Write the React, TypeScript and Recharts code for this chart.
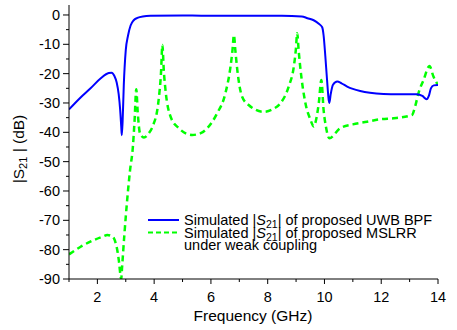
import React from 'react';
import { LineChart, Line, XAxis, YAxis, Customized } from 'recharts';

// Simulated |S21| of proposed UWB BPF
const bpfFreq = [
  1.0, 1.4, 1.76, 2.12, 2.4, 2.5, 2.6, 2.68, 2.75, 2.8, 2.84, 2.86, 2.89, 2.93, 3.0, 3.08, 3.17, 3.28, 3.41,
  3.6, 3.87, 5.0, 7.0, 8.5, 9.2, 9.4, 9.62, 9.8, 9.92, 9.97, 10.03, 10.09, 10.15, 10.17, 10.22, 10.3, 10.45,
  10.6, 10.8, 11.0, 11.26, 11.6, 12.08, 12.6, 13.26, 13.45, 13.6, 13.68, 13.75, 13.85, 14.0,
];
const bpfDb = [
  -32.2, -28.2, -25, -21.6, -19.8, -19.7, -20.8, -23, -27, -32, -38, -41, -36, -24, -12, -7, -3.6, -1.8, -1.0,
  -0.5, -0.3, -0.2, -0.3, -0.3, -0.5, -1.1, -1.8, -3.0, -4.2, -7, -14, -22, -29, -30, -27, -23.8, -22.7,
  -23.3, -24.4, -25.2, -25.9, -26.5, -26.9, -27.0, -27.0, -27.6, -28.7, -27.5, -25, -24.0, -23.9,
];

// Simulated |S21| of proposed MSLRR under weak coupling
const mslrrFreq = [
  1.0, 1.41, 1.88, 2.2, 2.35, 2.48, 2.58, 2.65, 2.7, 2.76, 2.82, 2.84, 2.87, 2.95, 3.05, 3.15, 3.25, 3.31, 3.37,
  3.42, 3.5, 3.64, 3.8, 3.99, 4.1, 4.17, 4.24, 4.29, 4.34, 4.4, 4.58, 4.87, 5.34, 5.64, 5.87, 6.22, 6.51, 6.69,
  6.76, 6.81, 6.86, 6.93, 7.1, 7.33, 7.86, 8.2, 8.45, 8.74, 8.92, 8.99, 9.04, 9.09, 9.15, 9.33, 9.5, 9.62, 9.72,
  9.8, 9.89, 9.97, 10.05, 10.17, 10.55, 11.0, 11.5, 12.0, 12.44, 13.08, 13.2, 13.31, 13.49, 13.7, 13.84, 14.0,
];
const mslrrDb = [
  -81.6, -79, -76.7, -75.5, -75, -75.3, -76.1, -78, -80.1, -84, -89.2, -90, -86, -75, -63, -53, -45, -36, -25.3,
  -33, -40.3, -41.8, -40.5, -36.9, -33, -27.9, -20, -10.2, -19, -25.6, -34.7, -38.6, -40.9, -40.3, -38.6, -33.5, -26.7, -17.6,
  -12, -6.8, -12, -18.8, -27.9, -30.7, -33, -32, -30.1, -24.4, -17.6, -12, -6.2, -12, -18, -30.1, -35.5, -38, -35,
  -30, -22.2, -32.4, -38, -42, -38.6, -37.3, -36.4, -35.5, -35.2, -34.1, -31, -26.7, -22.2, -17.4, -21, -23.9,
];

const xTicks = [1, 2, 3, 4, 5, 6, 7, 8, 9, 10, 11, 12, 13, 14];
const yTicks = [0, -5, -10, -15, -20, -25, -30, -35, -40, -45, -50, -55, -60, -65, -70, -75, -80, -85, -90];

const bpfData = bpfFreq.map((f, i) => ({ f, db: bpfDb[i] }));
const mslrrData = mslrrFreq.map((f, i) => ({ f, db: mslrrDb[i] }));

const FONT = '"Liberation Sans", Arial, sans-serif';

const XTick = (props: any) => {
  const { x, y, payload } = props;
  const major = payload.value % 2 === 0;
  return (
    <g>
      <line x1={x} x2={x} y1={y} y2={y + (major ? 5 : 3)} stroke="#000" />
      {major && (
        <text x={x} y={y + 23} textAnchor="middle" fontSize={14.5} fill="#000" fontFamily={FONT}>
          {payload.value}
        </text>
      )}
    </g>
  );
};

const YTick = (props: any) => {
  const { x, y, payload } = props;
  const major = payload.value % 10 === 0;
  return (
    <g>
      <line x1={x - (major ? 6 : 3)} x2={x} y1={y} y2={y} stroke="#000" />
      {major && (
        <text x={x - 9} y={y + 5} textAnchor="end" fontSize={14.5} fill="#000" fontFamily={FONT}>
          {payload.value}
        </text>
      )}
    </g>
  );
};

const Extras = () => (
  <g fontFamily={FONT} fill="#000">
    <text x={253} y={321} textAnchor="middle" fontSize={15.5}>
      Frequency (GHz)
    </text>
    <text transform="translate(24,149) rotate(-90)" textAnchor="middle" fontSize={15.5}>
      |S<tspan fontSize={11} dy={3}>21</tspan>
      <tspan dy={-3}> | (dB)</tspan>
    </text>
    <line x1={148} x2={179} y1={220} y2={220} stroke="#0000ff" strokeWidth={2} />
    <line x1={148} x2={179} y1={232.5} y2={232.5} stroke="#00ff00" strokeWidth={2} strokeDasharray="5 3" />
    <g fontSize={14.5}>
      <text x={184} y={225}>
        Simulated |<tspan fontStyle="italic">S</tspan>
        <tspan fontSize={10.5} dy={3}>21</tspan>
        <tspan dy={-3}>| of proposed UWB BPF</tspan>
      </text>
      <text x={184} y={237.5}>
        Simulated |<tspan fontStyle="italic">S</tspan>
        <tspan fontSize={10.5} dy={3}>21</tspan>
        <tspan dy={-3}>| of proposed MSLRR</tspan>
      </text>
      <text x={184} y={250}>under weak coupling</text>
    </g>
  </g>
);

export default function App() {
  return (
    <div style={{ position: 'absolute', left: 0, top: 0, background: '#fff' }}>
      <LineChart width={457} height={330} margin={{ top: 5, right: 19, bottom: 0, left: 0 }}>
        <XAxis
          type="number"
          dataKey="f"
          domain={[1, 14]}
          ticks={xTicks}
          interval={0}
          allowDataOverflow
          height={51}
          tickSize={0}
          tickMargin={0}
          tickLine={false}
          tick={<XTick />}
          axisLine={{ stroke: '#000' }}
        />
        <YAxis
          type="number"
          domain={[-90, 3.4]}
          ticks={yTicks}
          interval={0}
          allowDataOverflow
          width={69}
          tickSize={0}
          tickMargin={0}
          tickLine={false}
          tick={<YTick />}
          axisLine={{ stroke: '#000' }}
        />
        <Line
          data={mslrrData}
          dataKey="db"
          type="monotone"
          stroke="#00ff00"
          strokeWidth={2.5}
          strokeDasharray="6 4"
          dot={false}
          isAnimationActive={false}
        />
        <Line
          data={bpfData}
          dataKey="db"
          type="monotone"
          stroke="#0000ff"
          strokeWidth={2}
          dot={false}
          isAnimationActive={false}
        />
        <Customized component={Extras} />
      </LineChart>
    </div>
  );
}
